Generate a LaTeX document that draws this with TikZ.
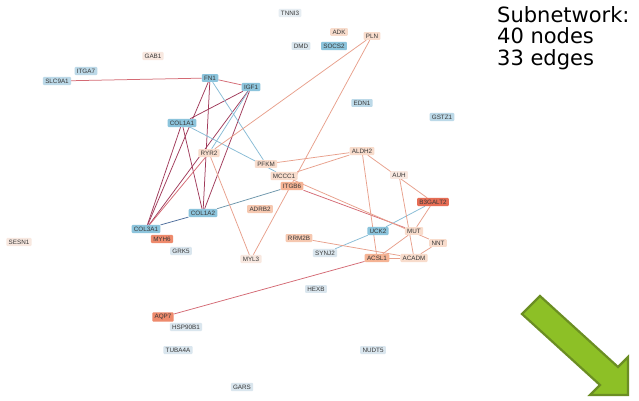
\documentclass[tikz,border=0pt]{standalone}
\usepackage{fontspec}
\setmainfont{Liberation Sans}
\newfontfamily\notefont{DejaVu Sans}
\pgfdeclarelayer{edges}
\pgfsetlayers{edges,main}
\begin{document}
\begin{tikzpicture}[x=1pt,y=-1pt]
% node fills
\definecolor{bS}{HTML}{8CC4DC}
\definecolor{bM}{HTML}{BCD9E8}
\definecolor{bL}{HTML}{DAE6EE}
\definecolor{bXL}{HTML}{E6EDF2}
\definecolor{oS}{HTML}{E66D55}
\definecolor{oA}{HTML}{EE8A6C}
\definecolor{oM}{HTML}{F5B394}
\definecolor{oN}{HTML}{F6C8B0}
\definecolor{oL}{HTML}{F8DCCC}
\definecolor{oXL}{HTML}{F8E8E0}
% edge colours
\definecolor{eP}{HTML}{A03A5A}
\definecolor{eR}{HTML}{D46A74}
\definecolor{eO}{HTML}{E8A08C}
\definecolor{eB}{HTML}{88BCD6}
\definecolor{eD}{HTML}{4E6E9C}
\definecolor{arrowfill}{HTML}{8DC026}
\definecolor{arrowline}{HTML}{6B8E23}
\tikzset{
  gn/.style={rounded corners=1pt, inner xsep=2.3pt, inner ysep=1.8pt,
    font=\fontsize{6.3}{7}\selectfont, text=black!78},
  ed/.style={line width=0.75pt},
}
\useasboundingbox (0,0) rectangle (639,401);

% genes
\node[gn,fill=bXL] (TNNI3) at (290,13) {TNNI3};
\node[gn,fill=oL] (ADK) at (339,32) {ADK};
\node[gn,fill=oL] (PLN) at (372,36) {PLN};
\node[gn,fill=bL] (DMD) at (301,46) {DMD};
\node[gn,fill=bS] (SOCS2) at (334,46) {SOCS2};
\node[gn,fill=oXL] (GAB1) at (153,56) {GAB1};
\node[gn,fill=bM] (ITGA7) at (86,71) {ITGA7};
\node[gn,fill=bM] (SLC9A1) at (57,81) {SLC9A1};
\node[gn,fill=bS] (FN1) at (210,78) {FN1};
\node[gn,fill=bS] (IGF1) at (251,87) {IGF1};
\node[gn,fill=bM] (EDN1) at (362,103) {EDN1};
\node[gn,fill=bM] (GSTZ1) at (442,117) {GSTZ1};
\node[gn,fill=bS] (COL1A1) at (182,123) {COL1A1};
\node[gn,fill=oL] (RYR2) at (209,153) {RYR2};
\node[gn,fill=oL] (PFKM) at (266,164) {PFKM};
\node[gn,fill=oL] (ALDH2) at (362,151) {ALDH2};
\node[gn,fill=oL] (MCCC1) at (284,176) {MCCC1};
\node[gn,fill=oXL] (AUH) at (399,175) {AUH};
\node[gn,fill=oM] (ITGB6) at (292,186) {ITGB6};
\node[gn,fill=oN] (ADRB2) at (260,209) {ADRB2};
\node[gn,fill=oS] (B3GALT2) at (433,202) {B3GALT2};
\node[gn,fill=bS] (COL1A2) at (203,213) {COL1A2};
\node[gn,fill=bS] (COL3A1) at (146,229) {COL3A1};
\node[gn,fill=oA] (MYH6) at (162,239) {MYH6};
\node[gn,fill=bS] (UCK2) at (378,231) {UCK2};
\node[gn,fill=oL] (MUT) at (414,231) {MUT};
\node[gn,fill=oN] (RRM2B) at (299,238) {RRM2B};
\node[gn,fill=bL] (GRK5) at (181,251) {GRK5};
\node[gn,fill=oL] (NNT) at (438,243) {NNT};
\node[gn,fill=bL] (SYNJ2) at (325,253) {SYNJ2};
\node[gn,fill=oXL] (MYL3) at (251,259) {MYL3};
\node[gn,fill=oM] (ACSL1) at (377,258) {ACSL1};
\node[gn,fill=oL] (ACADM) at (414,258) {ACADM};
\node[gn,fill=oXL] (SESN1) at (19,242) {SESN1};
\node[gn,fill=bL] (HEXB) at (316,289) {HEXB};
\node[gn,fill=oA] (AQP7) at (163,317) {AQP7};
\node[gn,fill=bL] (HSP90B1) at (186,327) {HSP90B1};
\node[gn,fill=bL] (TUBA4A) at (178,350) {TUBA4A};
\node[gn,fill=bL] (NUDT5) at (373,350) {NUDT5};
\node[gn,fill=bL] (GARS) at (242,387) {GARS};

% interactions, drawn beneath the gene labels
\begin{pgfonlayer}{edges}
\fill[white] (0,0) rectangle (639,401);
\draw[ed,eR] (SLC9A1) -- (FN1);
\draw[ed,eR] (FN1) -- (IGF1);
\draw[ed,eP] (FN1) -- (COL3A1);
\draw[ed,eP] (FN1) -- (COL1A2);
\draw[ed,eP] (IGF1) -- (COL3A1);
\draw[ed,eP] (IGF1) -- (COL1A2);
\draw[ed,eP] (IGF1) -- (COL1A1);
\draw[ed,eP] (COL1A1) -- (COL3A1);
\draw[ed,eP] (COL1A1) -- (COL1A2);
\draw[ed,eD] (COL3A1) -- (COL1A2);
\draw[ed,eR] (RYR2) -- (COL3A1);
\draw[ed,eB] (FN1) -- (PFKM);
\draw[ed,eB] (COL1A1) -- (MCCC1);
\draw[ed,eB] (IGF1) -- (RYR2);
\draw[ed,eB!80!black] (COL1A2) -- (ITGB6);
\draw[ed,eB] (UCK2) -- (SYNJ2);
\draw[ed,eB] (UCK2) -- (B3GALT2);
\draw[ed,eO] (PLN) -- (RYR2);
\draw[ed,eO] (PLN) -- (MYL3);
\draw[ed,eO] (RYR2) -- (MYL3);
\draw[ed,eO] (PFKM) -- (ALDH2);
\draw[ed,eO] (MCCC1) -- (ALDH2);
\draw[ed,eR] (ITGB6) -- (MUT);
\draw[ed,eO] (MCCC1) -- (NNT);
\draw[ed,eO] (ALDH2) -- (B3GALT2);
\draw[ed,eO] (ALDH2) -- (ACSL1);
\draw[ed,eO] (AUH) -- (ACADM);
\draw[ed,eO] (B3GALT2) -- (MUT);
\draw[ed,eO] (MUT) -- (ACSL1);
\draw[ed,eO] (NNT) -- (ACADM);
\draw[ed,eO] (RRM2B) -- (ACADM);
\draw[ed,eO] (ACSL1) -- (ACADM);
\draw[ed,eR] (ACSL1) -- (AQP7);
\end{pgfonlayer}

% summary
\node[anchor=north west, inner sep=0pt, align=left,
  font=\notefont\fontsize{21}{21.5}\selectfont, text=black] (summary) at (497,6)
  {Subnetwork:\\40 nodes\\33 edges};

% green block arrow
\filldraw[fill=arrowfill, draw=arrowline, line width=2.2pt, line join=miter]
  (540,296) -- (618,367) -- (628,357) -- (628,395) -- (590,395) -- (600,385) -- (522,314) -- cycle;
\end{tikzpicture}
\end{document}
